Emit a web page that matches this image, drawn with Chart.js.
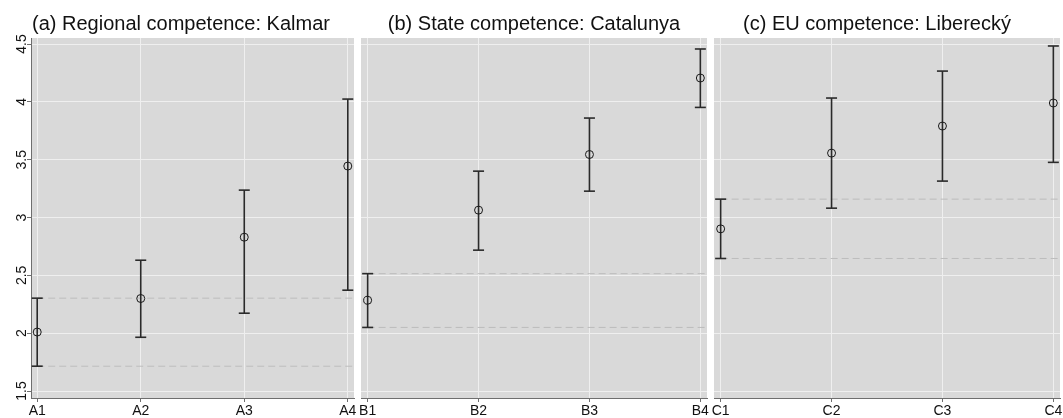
<!DOCTYPE html>
<html><head><meta charset="utf-8">
<script src="https://cdn.jsdelivr.net/npm/chart.js@4.4.1/dist/chart.umd.min.js"></script>
<style>
html,body{margin:0;padding:0;background:#fff;overflow:hidden;width:1063px;height:418px;position:relative;}
canvas{position:absolute;top:0;}
</style></head><body>
<canvas id="ca"></canvas>
<canvas id="cb"></canvas>
<canvas id="cc"></canvas>
<script>
// ---- data ----
const titles = ['(a) Regional competence: Kalmar', '(b) State competence: Catalunya', '(c) EU competence: Liberecký'];
const catsA = ['A1', 'A2', 'A3', 'A4'];
const catsB = ['B1', 'B2', 'B3', 'B4'];
const catsC = ['C1', 'C2', 'C3', 'C4'];
const meanA = [2.01, 2.30, 2.83, 3.445];
const lowA  = [1.715, 1.965, 2.173, 2.372];
const highA = [2.303, 2.631, 3.237, 4.024];
const meanB = [2.285, 3.064, 3.545, 4.206];
const lowB  = [2.05, 2.718, 3.228, 3.952];
const highB = [2.515, 3.401, 3.860, 4.457];
const meanC = [2.902, 3.557, 3.791, 3.990];
const lowC  = [2.646, 3.081, 3.315, 3.477];
const highC = [3.159, 4.033, 4.266, 4.483];
const yTickLabels = ['1.5', '2', '2.5', '3', '3.5', '4', '4.5'];
const yTickValues = [1.5, 2, 2.5, 3, 3.5, 4, 4.5];

// ---- style / layout ----
Chart.defaults.font.family = "'Liberation Sans', Arial, Helvetica, sans-serif";
Chart.defaults.color = '#111';
const Y_MIN = 1.44, Y_MAX = 4.552, X_MIN = -0.06, X_MAX = 3.06;
const AXIS_COL = '#6e6e6e', GRID_COL = '#efefef', PANEL_BG = '#d9d9d9', BAR_COL = '#2a2a2a';

const bgPlugin = {
  id: 'panelBg',
  beforeDraw(chart) {
    const {ctx, chartArea: a} = chart;
    ctx.save();
    ctx.fillStyle = PANEL_BG;
    ctx.fillRect(a.left, a.top, a.right - a.left, a.bottom - a.top);
    ctx.restore();
  }
};
const yLabelPlugin = {
  id: 'yLabels',
  afterDraw(chart, args, opts) {
    if (!opts || !opts.show) return;
    const s = chart.scales.y, ctx = chart.ctx;
    ctx.save();
    ctx.font = "14px 'Liberation Sans', Arial, sans-serif";
    ctx.fillStyle = '#111';
    ctx.textAlign = 'center';
    ctx.textBaseline = 'alphabetic';
    s.ticks.forEach((t) => {
      const y = s.getPixelForValue(t.value);
      ctx.save();
      ctx.translate(opts.x, y);
      ctx.rotate(-Math.PI / 2);
      ctx.fillText(yTickLabels[yTickValues.indexOf(t.value)], 0, 0);
      ctx.restore();
    });
    ctx.restore();
  }
};

function makePanel(id, left, width, pad, yWidth, showY, title, cats, mean, low, high) {
  const el = document.getElementById(id);
  el.width = width; el.height = 418;
  el.style.left = left + 'px';
  const idx = cats.map((c, i) => i);
  new Chart(el, {
    type: 'bar',
    data: {
      datasets: [
        { type: 'line', data: [{x: 0, y: high[0]}, {x: X_MAX, y: high[0]}], borderColor: '#bdbdbd', borderWidth: 1, borderDash: [7, 4], pointRadius: 0, order: 5 },
        { type: 'line', data: [{x: 0, y: low[0]}, {x: X_MAX, y: low[0]}], borderColor: '#bdbdbd', borderWidth: 1, borderDash: [7, 4], pointRadius: 0, order: 5 },
        { type: 'bar', data: idx.map(i => ({x: i, y: [low[i], high[i]]})), backgroundColor: BAR_COL, barThickness: 1.6, inflateAmount: 0, borderWidth: 0, order: 3 },
        { type: 'line', data: idx.map(i => ({x: i, y: low[i]})), showLine: false, pointStyle: 'line', pointRadius: 5.5, pointBorderWidth: 1.6, pointBorderColor: BAR_COL, order: 2 },
        { type: 'line', data: idx.map(i => ({x: i, y: high[i]})), showLine: false, pointStyle: 'line', pointRadius: 5.5, pointBorderWidth: 1.6, pointBorderColor: BAR_COL, order: 2 },
        { type: 'line', data: idx.map(i => ({x: i, y: mean[i]})), showLine: false, pointStyle: 'circle', pointRadius: 4, pointBorderWidth: 1, pointBorderColor: '#1a1a1a', pointBackgroundColor: 'rgba(0,0,0,0)', order: 1 }
      ]
    },
    options: {
      responsive: false,
      animation: false,
      events: [],
      layout: { padding: { left: pad[0], right: pad[1], top: 0, bottom: 0 } },
      plugins: {
        legend: { display: false },
        tooltip: { enabled: false },
        title: { display: true, text: title, align: 'center', color: '#111',
                 font: { size: 20, weight: 'normal' }, padding: { top: 12, bottom: 2 } },
        yLabels: { show: showY, x: 26 }
      },
      scales: {
        x: {
          type: 'linear', min: X_MIN, max: X_MAX, offset: false,
          afterBuildTicks: s => { s.ticks = idx.map(v => ({value: v})); },
          afterFit: s => { s.height = 20; },
          ticks: { callback: v => cats[v], font: { size: 14 }, color: '#111', padding: 1, maxRotation: 0, autoSkip: false },
          grid: { color: GRID_COL, lineWidth: 1, offset: false, drawTicks: true, tickLength: 4, tickColor: AXIS_COL },
          border: { display: true, color: AXIS_COL, width: 1 }
        },
        y: {
          type: 'linear', min: Y_MIN, max: Y_MAX, beginAtZero: false,
          afterBuildTicks: s => { s.ticks = yTickValues.map(v => ({value: v})); },
          afterFit: s => { s.width = yWidth; },
          ticks: { display: false },
          grid: { color: GRID_COL, lineWidth: 1, drawTicks: showY, tickLength: 4, tickColor: AXIS_COL },
          border: { display: showY, color: AXIS_COL, width: 1 }
        }
      }
    },
    plugins: [bgPlugin, yLabelPlugin]
  });
}

makePanel('ca', 0, 364, [8, 10], 23, true, titles[0], catsA, meanA, lowA, highA);
makePanel('cb', 352, 364, [9, 9], 0, false, titles[1], catsB, meanB, lowB, highB);
makePanel('cc', 694, 376, [0, 10], 20, false, titles[2], catsC, meanC, lowC, highC);
</script>
</body></html>
